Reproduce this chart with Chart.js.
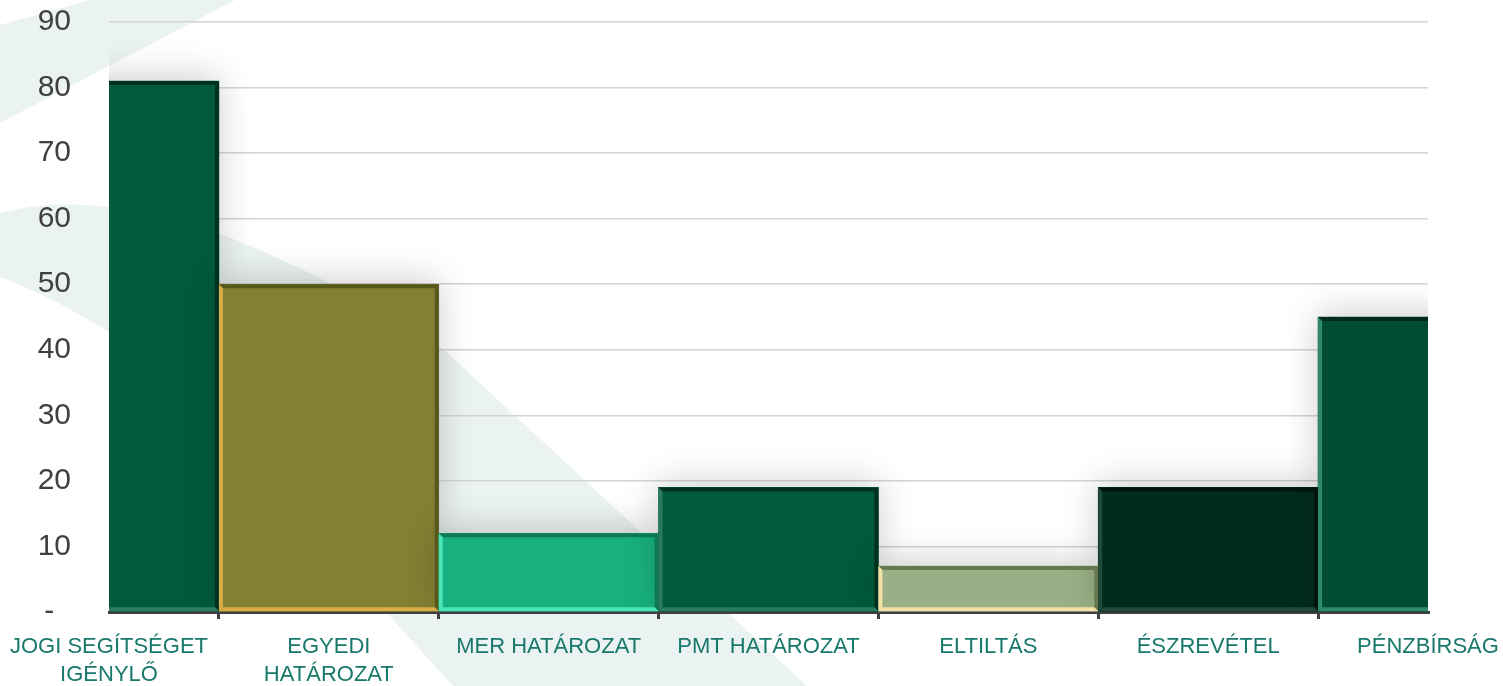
<!DOCTYPE html>
<html>
<head>
<meta charset="utf-8">
<script src="https://cdn.jsdelivr.net/npm/chart.js@4.4.1/dist/chart.umd.min.js"></script>
<style>
html,body{margin:0;padding:0;background:#fff;}
#wrap{width:1503px;height:686px;position:relative;}
</style>
</head>
<body>
<div id="wrap"><canvas id="c" width="1503" height="686"></canvas></div>
<script>
// ---- data ----
const categories = [["JOGI SEGÍTSÉGET","IGÉNYLŐ"],["EGYEDI","HATÁROZAT"],"MER HATÁROZAT","PMT HATÁROZAT","ELTILTÁS","ÉSZREVÉTEL","PÉNZBÍRSÁG"];
const values = [81, 50, 12, 19, 7, 19, 45];
const yMin = 0, yMax = 90, yStep = 10;

// ---- styles ----
const barColors = ['#005a3c','#857f33','#18b07e','#005a3c','#9aaf85','#002b1e','#004c35'];
const bevelLight = ['#2f7d60','#d8ad48','#48e6b6','#2a7a5c','#f2e2a8','#1f4a3a','#2f8a6a'];
const bevelDark  = ['#00301f','#56591c','#0e7a55','#00301f','#66784e','#001510','#002a1c'];

const bgPlugin = {
  id:'bg',
  beforeDraw(chart){
    const ctx = chart.ctx;
    ctx.save();
    ctx.fillStyle = '#ffffff';
    ctx.fillRect(0,0,chart.width,chart.height);
    ctx.fillStyle = '#ebf2f2';
    // top-left stripe
    ctx.beginPath();
    ctx.moveTo(0,25); ctx.lineTo(90,0); ctx.lineTo(235,0); ctx.lineTo(0,123);
    ctx.closePath(); ctx.fill();
    // large swoosh
    ctx.beginPath();
    ctx.moveTo(0,213);
    ctx.quadraticCurveTo(110,185,260,250);
    ctx.quadraticCurveTo(350,290,430,337);
    ctx.lineTo(807,686);
    ctx.lineTo(453,686);
    ctx.lineTo(387,613);
    ctx.quadraticCurveTo(220,400,110,333);
    ctx.quadraticCurveTo(50,295,0,277);
    ctx.closePath(); ctx.fill();
    ctx.restore();
  }
};

const shadowPlugin = {
  id:'shadow',
  beforeDatasetsDraw(chart){
    const ctx = chart.ctx;
    ctx.save();
    ctx.shadowColor = 'rgba(0,0,0,0.2)';
    ctx.shadowBlur = 34;
    ctx.shadowOffsetX = 0;
    ctx.shadowOffsetY = -4;
  },
  afterDatasetsDraw(chart){
    const ctx = chart.ctx;
    ctx.restore();
    const area = chart.chartArea;
    const meta = chart.getDatasetMeta(0);
    ctx.save();
    ctx.beginPath();
    ctx.rect(area.left, area.top - 2, area.right - area.left, area.bottom - area.top + 2);
    ctx.clip();
    const w = 4;
    meta.data.forEach((bar, i) => {
      const p = bar.getProps(['x','y','base','width'], true);
      const l = p.x - p.width/2, r = p.x + p.width/2, t = p.y, b = p.base;
      const poly = (pts, col) => {
        ctx.fillStyle = col; ctx.beginPath();
        ctx.moveTo(pts[0][0], pts[0][1]);
        for (let k=1;k<pts.length;k++) ctx.lineTo(pts[k][0], pts[k][1]);
        ctx.closePath(); ctx.fill();
      };
      poly([[l,t],[r,t],[r-w,t+w],[l+w,t+w]], bevelDark[i]);
      poly([[r,t],[r,b],[r-w,b-w],[r-w,t+w]], bevelDark[i]);
      poly([[l,b],[r,b],[r-w,b-w],[l+w,b-w]], bevelLight[i]);
      poly([[l,t],[l+w,t+w],[l+w,b-w],[l,b]], bevelLight[i]);
    });
    ctx.restore();
  }
};

new Chart(document.getElementById('c'), {
  type:'bar',
  data:{
    labels: categories,
    datasets:[{
      data: values,
      backgroundColor: barColors,
      borderWidth: 0,
      barPercentage: 1,
      categoryPercentage: 1
    }]
  },
  options:{
    responsive:false,
    animation:false,
    devicePixelRatio:1,
    layout:{padding:{left:0,right:75,top:22,bottom:0}},
    plugins:{legend:{display:false},tooltip:{enabled:false}},
    scales:{
      x:{
        offset:false,
        grid:{display:true, drawOnChartArea:false, drawTicks:true, tickLength:7, color:'#404040', lineWidth:3},
        border:{display:true, color:'#404040', width:3},
        ticks:{color:'#17786b', font:{family:'"Liberation Sans", Arial, sans-serif', size:22, lineHeight:1.27}, maxRotation:0, autoSkip:false, padding:14},
        afterFit(s){ s.height = 74; s.paddingLeft = 0; s.paddingRight = 0; }
      },
      y:{
        min:yMin, max:yMax,
        grid:{color:'#d4d4d4', lineWidth:1.5, drawTicks:false},
        border:{display:false},
        ticks:{stepSize:yStep, color:'#404040', padding:38,
          font:{family:'"Liberation Sans", Arial, sans-serif', size:30},
          callback:(v)=> v===0 ? '-  ' : String(v)},
        afterFit(s){ s.width = 109; s.paddingTop = 0; s.paddingBottom = 0; }
      }
    }
  },
  plugins:[bgPlugin, shadowPlugin]
});
</script>
</body>
</html>
